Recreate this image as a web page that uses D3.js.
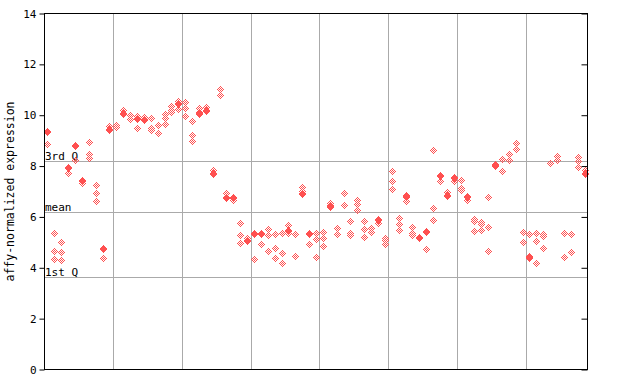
<!DOCTYPE html>
<html>
<head>
<meta charset="utf-8">
<script src="https://cdn.jsdelivr.net/npm/d3@7"></script>
<style>
  body { margin: 0; background: #fff; }
  text { font-family: "DejaVu Sans Mono", monospace; }
</style>
</head>
<body>
<script>
// size of the page
var w = 640;
var h = 384;

// one value per sample drawn as a solid diamond (null = none)
var highlight = [9.34, null, null, 7.93, 8.79, 7.40, null, null, 4.74, 9.42,
    null, 10.05, null, 9.85, 9.81, null, null, null, null, 10.46,
    null, null, 10.07, 10.17, 7.68, null, 6.74, 6.73, null, 5.05,
    5.32, 5.32, null, null, null, 5.43, null, 6.89, 5.33, null,
    null, 6.43, null, null, null, null, null, null, 5.87, null,
    null, null, 6.78, null, 5.18, 5.41, null, 7.61, 6.81, 7.55,
    null, 6.77, null, null, null, 8.02, null, null, null, null,
    4.44, null, null, null, null, null, null, null, 7.70];

// replicate values per sample, drawn as dotted diamonds
var replicates = [[8.85], [5.34, 4.63, 4.32], [5.03, 4.63, 4.32], [7.74], [8.22],
    [7.35], [8.96, 8.45, 8.26], [7.27, 6.96, 6.60], [4.36], [9.58],
    [9.58, 9.50], [10.22], [10.01, 9.81], [9.93, 9.51], [9.93],
    [9.87, 9.51, 9.43], [9.59, 9.28], [10.05, 9.85, 9.63], [10.38, 10.22, 10.10], [10.56, 10.22],
    [10.53, 10.26, 9.95], [9.79, 9.20, 8.96], [10.26, 9.99], [10.33], [7.86],
    [11.05, 10.78], [6.92], [6.63], [5.78, 5.30, 4.99], [5.15],
    [4.32], [4.92], [5.51, 5.30, 4.63], [5.34, 4.79, 4.40], [5.38, 4.59, 4.20],
    [5.70, 5.34], [5.30, 4.48], [7.15, 7.01], [4.95], [5.38, 5.11, 4.44],
    [5.38, 5.12, 4.87], [6.51, 6.35], [5.54, 5.30], [6.92, 6.48], [5.81, 5.38, 5.30],
    [6.64, 6.48, 6.29], [5.81, 5.50, 5.22], [5.58, 5.38], [5.93, 5.74], [5.18, 5.04, 4.91],
    [7.80, 7.39, 7.04], [5.93, 5.72, 5.50], [6.88, 6.63], [5.58, 5.38, 5.30], [],
    [4.75], [8.65, 6.37, 5.85], [7.39], [7.00], [7.43],
    [7.43, 7.15, 7.04], [6.63], [5.93, 5.85, 5.42], [5.78, 5.70, 5.46], [6.76, 5.62, 4.63],
    [8.07], [8.26, 7.78], [8.49, 8.18], [8.92, 8.85, 8.65], [5.42, 5.03],
    [5.34, 4.36], [5.34, 5.03, 4.15], [5.34, 5.22, 4.75], [8.10], [8.37, 8.18],
    [5.34, 4.40], [5.34, 4.63], [8.33, 8.18, 7.98], [7.82, 7.63]];

var yTicks = [0, 2, 4, 6, 8, 10, 12, 14];
var groupBreaks = [10, 20, 30, 40, 50, 60, 70];
var refLines = [
    { label: "3rd Q", value: 8.21 },
    { label: "mean", value: 6.21 },
    { label: "1st Q", value: 3.62 }
];

// plot box (don't call these top/left, window.top is read-only)
var plotL = 44, plotR = 588, plotT = 13.5, plotB = 369.5;
var red = "#ff5050";

var xScale = d3.scaleLinear()
    .domain([0, replicates.length])
    .range([plotL, plotR]);

var yScale = d3.scaleLinear()
    .domain([0, 14])
    .range([plotB, plotT]);

var svg = d3.select("body")
    .append("svg")
    .attr("width", w)
    .attr("height", h);

// checker fill for the dotted diamonds
svg.append("defs")
    .append("pattern")
    .attr("id", "chk")
    .attr("patternUnits", "userSpaceOnUse")
    .attr("width", 2)
    .attr("height", 2)
    .call(p => {
        p.append("rect").attr("width", 1).attr("height", 1).attr("fill", red);
        p.append("rect").attr("x", 1).attr("y", 1).attr("width", 1).attr("height", 1).attr("fill", red);
    });

var px = v => Math.round(v) + 0.5;

// group separators
svg.selectAll("line.vgrid")
    .data(groupBreaks)
    .enter()
    .append("line")
    .attr("class", "vgrid")
    .attr("x1", d => px(xScale(d)))
    .attr("x2", d => px(xScale(d)))
    .attr("y1", plotT)
    .attr("y2", plotB)
    .attr("stroke", "#aaaaaa");

// quartile / mean lines
svg.selectAll("line.ref")
    .data(refLines)
    .enter()
    .append("line")
    .attr("class", "ref")
    .attr("x1", plotL)
    .attr("x2", plotR)
    .attr("y1", d => px(yScale(d.value)))
    .attr("y2", d => px(yScale(d.value)))
    .attr("stroke", "#aaaaaa");

// axes
var yAxis = d3.axisLeft(yScale)
    .tickValues(yTicks)
    .tickSize(5)
    .tickFormat(d3.format("d"));

svg.append("g")
    .attr("transform", "translate(" + (plotL + 0.5) + ",0)")
    .call(yAxis)
    .call(g => g.select(".domain").remove())
    .call(g => g.selectAll("line").attr("stroke", "#000"))
    .call(g => g.selectAll("text")
        .attr("font-family", "DejaVu Sans Mono")
        .attr("font-size", "11px")
        .attr("fill", "#000"));

svg.append("g")
    .attr("transform", "translate(" + (plotR - 0.5) + ",0)")
    .call(d3.axisLeft(yScale).tickValues(yTicks).tickSize(6).tickFormat(""))
    .call(g => g.select(".domain").remove())
    .call(g => g.selectAll("line").attr("stroke", "#000"));

svg.selectAll("text.ref")
    .data(refLines)
    .enter()
    .append("text")
    .attr("class", "ref")
    .attr("x", plotL + 1)
    .attr("y", d => Math.round(yScale(d.value)) - 1)
    .attr("font-size", "11px")
    .attr("fill", "#000")
    .text(d => d.label);

// points
var diamond = (cx, cy, r) => "M" + cx + "," + (cy - r) + "L" + (cx + r) + "," + cy +
    "L" + cx + "," + (cy + r) + "L" + (cx - r) + "," + cy + "Z";

var repPoints = [];
replicates.forEach((vals, i) => vals.forEach(v => repPoints.push({ i: i, v: v })));

svg.selectAll("path.rep")
    .data(repPoints)
    .enter()
    .append("path")
    .attr("class", "rep")
    .attr("d", d => diamond(Math.round(xScale(d.i + 0.5)), Math.round(yScale(d.v)), 4))
    .attr("fill", "url(#chk)")
    .attr("shape-rendering", "crispEdges");

svg.selectAll("path.hi")
    .data(highlight.map((v, i) => ({ i: i, v: v })).filter(d => d.v !== null))
    .enter()
    .append("path")
    .attr("class", "hi")
    .attr("d", d => diamond(Math.round(xScale(d.i + 0.5)), Math.round(yScale(d.v)), 4))
    .attr("fill", red)
    .attr("shape-rendering", "crispEdges");

// frame
svg.append("rect")
    .attr("x", plotL + 0.5)
    .attr("y", plotT)
    .attr("width", plotR - plotL - 1)
    .attr("height", plotB - plotT)
    .attr("fill", "none")
    .attr("stroke", "#000");

svg.append("text")
    .attr("transform", "translate(14," + ((plotT + plotB) / 2) + ") rotate(-90)")
    .attr("text-anchor", "middle")
    .attr("font-size", "11.5px")
    .attr("fill", "#000")
    .text("affy-normalized expression");
</script>
</body>
</html>
